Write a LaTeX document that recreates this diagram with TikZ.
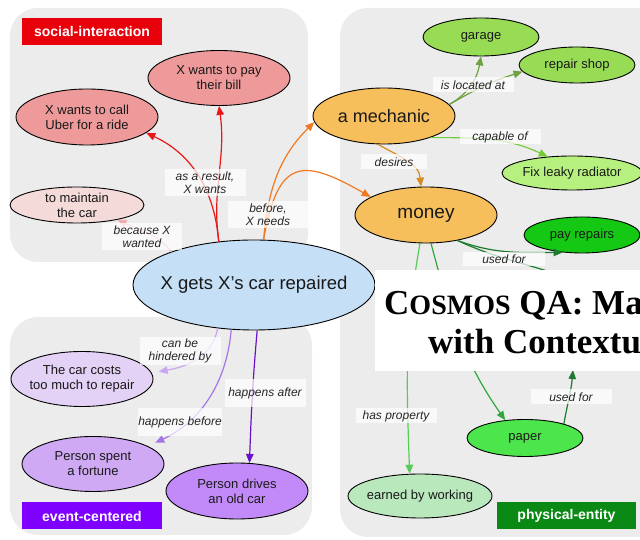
\documentclass[tikz,border=0pt]{standalone}
\usepackage{fontspec}
\setmainfont{Liberation Sans}
\newfontfamily\titlefont{Liberation Serif}
\usepackage{tikz}
\usetikzlibrary{arrows.meta}
\usetikzlibrary{shapes.geometric}

\definecolor{panelgray}{HTML}{ECECEC}
\definecolor{evblue}{HTML}{C5DFF6}
\definecolor{mechorange}{HTML}{F7BE5C}
\definecolor{garagegreen}{HTML}{98DC56}
\definecolor{fixgreen}{HTML}{B6F07E}
\definecolor{paygreen}{HTML}{14C814}
\definecolor{papergreen}{HTML}{4CE64C}
\definecolor{earngreen}{HTML}{B9E8BD}
\definecolor{wantred}{HTML}{EE9A9A}
\definecolor{maintpink}{HTML}{F5DADA}
\definecolor{costlav}{HTML}{E3D1F6}
\definecolor{spentlav}{HTML}{D0A9F5}
\definecolor{drivespurple}{HTML}{C28AF8}
\definecolor{socialred}{HTML}{E8000B}
\definecolor{eventpurple}{HTML}{8000FF}
\definecolor{physgreen}{HTML}{0A8A14}
\definecolor{redline}{HTML}{E81818}
\definecolor{pinkline}{HTML}{F0AAAA}
\definecolor{orangeline}{HTML}{F07A22}
\definecolor{desireline}{HTML}{D98A22}
\definecolor{oliveline}{HTML}{6FA23F}
\definecolor{limeline}{HTML}{74CC38}
\definecolor{darkgreenline}{HTML}{1E7A2E}
\definecolor{lightgreenline}{HTML}{55CC55}
\definecolor{midgreenline}{HTML}{2EA83A}
\definecolor{lavline}{HTML}{C9A6F2}
\definecolor{violetline}{HTML}{A774E8}
\definecolor{deepviolet}{HTML}{6A12C8}

\begin{document}
\begin{tikzpicture}[x=1pt, y=1pt,
    ent/.style={ellipse, draw=black, line width=0.9pt, inner xsep=-20pt, inner ysep=-5pt,
                align=center, text=black!90, font=\fontsize{13}{15}\selectfont},
    rel/.style={fill=white, fill opacity=0.7, text opacity=1, inner sep=0pt, align=center,
                text=black!85, font=\itshape\fontsize{12}{13}\selectfont},
    tag/.style={text=white, inner sep=0pt, minimum width=140pt, minimum height=27pt,
                font=\bfseries\fontsize{14}{16}\selectfont}]
\useasboundingbox (0,0) rectangle (640,540);
% grey panels behind each group
\fill[panelgray, rounded corners=28pt] (10,278) rectangle (308,532);
\fill[panelgray, rounded corners=28pt] (340,3) rectangle (680,532);
\fill[panelgray, rounded corners=28pt] (10,5) rectangle (312,223);

\node[tag, fill=socialred] (SocTag) at (92,508.5) {social-interaction};
\node[tag, fill=eventpurple] (EvtTag) at (92,24) {event-centered};
\node[tag, fill=physgreen, minimum width=139pt] (PhyTag) at (566.5,24) {physical-entity};

\node[ent, fill=evblue, minimum width=242pt, minimum height=90pt, font=\fontsize{18.5}{20}\selectfont] (Ev) at (254,255) {X gets X’s car repaired};
\node[ent, fill=mechorange, minimum width=142pt, minimum height=56pt, font=\fontsize{18}{20}\selectfont] (Mech) at (384,424) {a mechanic};
\node[ent, fill=mechorange, minimum width=142pt, minimum height=56pt, font=\fontsize{19}{20}\selectfont] (Money) at (426,325) {money};
\node[ent, fill=garagegreen, minimum width=116pt, minimum height=38pt] (Garage) at (481,503) {garage};
\node[ent, fill=garagegreen, minimum width=116pt, minimum height=36pt] (Shop) at (577,475) {repair shop};
\node[ent, fill=fixgreen, minimum width=140pt, minimum height=34pt] (Fix) at (572,367) {Fix leaky radiator};
\node[ent, fill=paygreen, minimum width=116pt, minimum height=36pt] (Pay) at (582,305) {pay repairs};
\node[ent, fill=papergreen, minimum width=116pt, minimum height=37pt] (Paper) at (525,102) {paper};
\node[ent, fill=earngreen, minimum width=144pt, minimum height=44pt] (Earn) at (420,44) {earned by working};
\node[ent, fill=wantred, minimum width=142pt, minimum height=55pt] (Bill) at (219,462) {X wants to pay\\their bill};
\node[ent, fill=wantred, minimum width=142pt, minimum height=56pt] (Uber) at (87,423) {X wants to call\\Uber for a ride};
\node[ent, fill=maintpink, minimum width=134pt, minimum height=36pt] (Maint) at (77,335) {to maintain\\the car};
\node[ent, fill=costlav, minimum width=142pt, minimum height=55pt] (Cost) at (82,161) {The car costs\\too much to repair};
\node[ent, fill=spentlav, minimum width=142pt, minimum height=55pt] (Spent) at (93,76) {Person spent\\a fortune};
\node[ent, fill=drivespurple, minimum width=142pt, minimum height=56pt] (Drives) at (237,49) {Person drives\\an old car};
\coordinate (Hid1) at (600,245);
\coordinate (Hid2) at (573,170);

\begin{scope}[>={Triangle[length=9pt,width=7.5pt]},
              every edge/.style={draw, line width=1.2pt}]
    \path [->] (Ev.129) edge[redline, out=98, in=-82] (Bill.270);
    \path [->] (Ev.129) edge[redline, out=95, in=-25] (Uber.-15);
    \path [->] (Ev.158) edge[pinkline, out=130, in=-25] (Maint.-20);
    \path [->] (Ev.78) edge[orangeline, out=85, in=-135] (Mech.185);
    \path [->] (Ev.78) edge[orangeline, out=80, in=150, looseness=1.8] (Money.162);
    \path [->] (Mech.258) edge[desireline, out=-30, in=95] (Money.100);
    \path [->] (Mech.10) edge[oliveline, out=30, in=-100] (Garage.270);
    \path [->] (Mech.10) edge[oliveline, out=30, in=-163] (Shop.187);
    \path [->] (Mech.-25) edge[limeline, out=0, in=155] (Fix.146);
    \path [->] (Money.-39) edge[darkgreenline, out=-20, in=180] (Pay.222);
    \path [->] (Money.-39) edge[darkgreenline, out=-25, in=150] (Hid1);
    \path [->] (Money.258) edge[lightgreenline, out=-100, in=92] (Earn.115);
    \path [->] (Money.-80) edge[midgreenline, out=-75, in=125] (Paper.138);
    \path [->] (Paper.20) edge[darkgreenline, out=80, in=-95] (Hid2);
    \path [->] (Ev.230) edge[lavline, out=-100, in=10, shorten >=7pt] (Cost.5);
    \path [->] (Ev.243) edge[violetline, out=-95, in=25, shorten >=8pt] (Spent.18);
    \path [->] (Ev.-86) edge[deepviolet, out=-95, in=88] (Drives.66);
\end{scope}

\node[rel, minimum width=81pt, minimum height=27pt] (lResult) at (205,357) {as a result,\\X wants};
\node[rel, minimum width=80pt, minimum height=27pt] (lBecause) at (142,303) {because X\\wanted};
\node[rel, minimum width=80pt, minimum height=27pt] (lBefore) at (268,325) {before,\\X needs};
\node[rel, minimum width=81pt, minimum height=15pt] (lLocated) at (473,455) {is located at};
\node[rel, minimum width=81pt, minimum height=15pt] (lCapable) at (500,403) {capable of};
\node[rel, minimum width=66pt, minimum height=15pt] (lDesires) at (394,378) {desires};
\node[rel, minimum width=82pt, minimum height=14pt] (lUsedA) at (504,281) {used for};
\node[rel, minimum width=81pt, minimum height=28pt] (lHindered) at (180,189) {can be\\hindered by};
\node[rel, minimum width=81pt, minimum height=28pt] (lAfter) at (265,147) {happens after};
\node[rel, minimum width=81pt, minimum height=28pt] (lBeforeEv) at (180,118) {happens before};
\node[rel, minimum width=81pt, minimum height=15pt] (lProperty) at (396,124) {has property};
\node[rel, minimum width=81pt, minimum height=15pt] (lUsedB) at (571,143) {used for};

% pasted title strip over the right panel
\begin{scope}
\clip (375,169) rectangle (640,270);
\fill[white] (375,169) rectangle (640,270);
\node[anchor=base west, inner sep=0pt, font=\titlefont\bfseries\fontsize{35}{38}\selectfont] (Title1) at (384,225) {C{\fontsize{28}{30}\selectfont OSMOS} QA: Machine};
\node[anchor=base west, inner sep=0pt, font=\titlefont\bfseries\fontsize{35}{38}\selectfont] (Title2) at (428,186) {with Contextual};
\end{scope}
\end{tikzpicture}
\end{document}
